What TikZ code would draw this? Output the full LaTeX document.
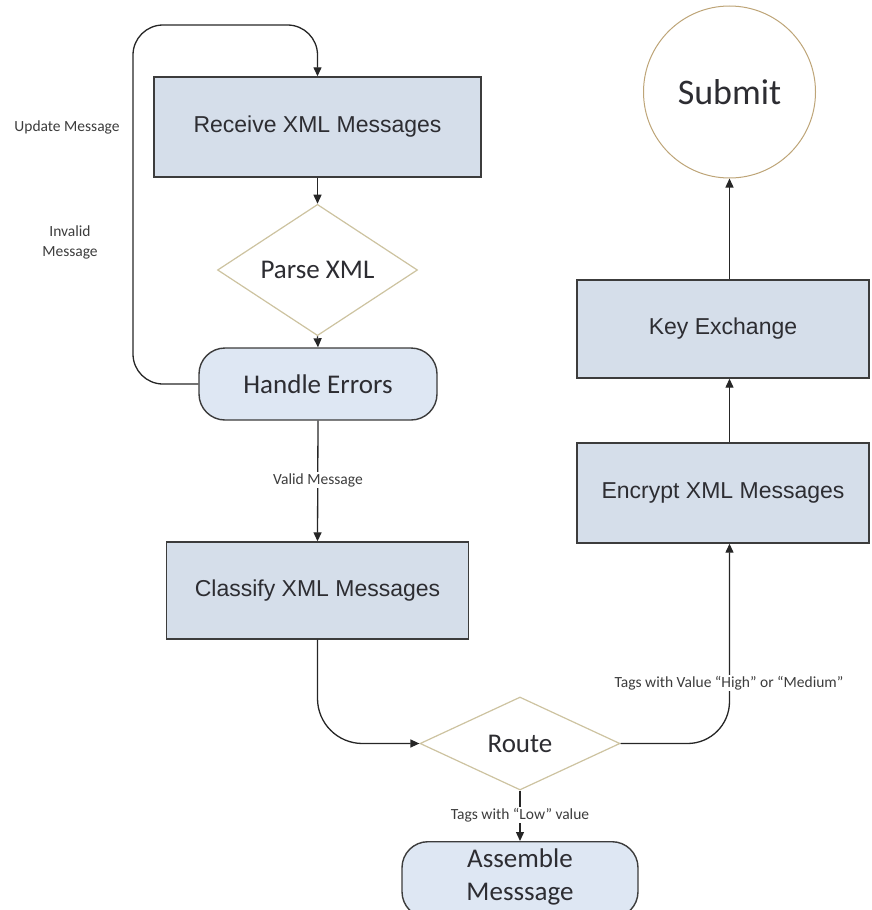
\documentclass[tikz,border=0pt]{standalone}
\usepackage{fontspec}
\setmainfont{Carlito}
\newfontfamily\arialf{Liberation Sans}
\usetikzlibrary{shapes.geometric,arrows.meta}
\definecolor{boxfill}{RGB}{213,222,234}
\definecolor{roundfill}{RGB}{222,231,243}
\definecolor{boxline}{RGB}{60,60,60}
\definecolor{tanline}{RGB}{205,195,160}
\definecolor{circline}{RGB}{190,165,120}
\definecolor{txtgrey}{RGB}{45,45,50}
\definecolor{lblgrey}{RGB}{60,60,60}
\tikzset{
  procbox/.style={draw=boxline, line width=1.4pt, fill=boxfill, rectangle, inner sep=0pt,
    font=\arialf\fontsize{23}{27}\selectfont, text=txtgrey},
  roundbox/.style={draw=boxline, line width=1.4pt, fill=roundfill, rectangle, rounded corners=26pt,
    inner sep=0pt, font=\fontsize{27}{33}\selectfont, text=txtgrey, align=center},
  decision/.style={draw=tanline, line width=1.2pt, fill=white, diamond, inner sep=0pt,
    font=\fontsize{27}{32}\selectfont, text=txtgrey},
  endcircle/.style={draw=circline, line width=1pt, fill=white, circle, inner sep=0pt,
    font=\fontsize{36}{40}\selectfont, text=txtgrey},
  conn/.style={draw=black!85, line width=1.3pt, -{Triangle[length=9pt,width=8pt]}},
  lbl/.style={font=\fontsize{15.5}{20}\selectfont, text=lblgrey, inner sep=1.5pt},
  lblw/.style={lbl, fill=white}
}
\begin{document}
\begin{tikzpicture}[x=1pt,y=-1pt]
\useasboundingbox (0,0) rectangle (871,910);
\clip (0,0) rectangle (871,910);

% nodes
\node[procbox, minimum width=327pt, minimum height=100pt] (recv) at (317.5,127) {Receive XML Messages};
\node[decision, minimum width=200pt, minimum height=94pt] (parse) at (317.5,270) {Parse XML};
\node[roundbox, minimum width=238pt, minimum height=72pt] (hnd) at (318,384) {Handle Errors};
\node[procbox, minimum width=302pt, minimum height=97pt] (cls) at (317.5,590.5) {Classify XML Messages};
\node[decision, minimum width=200pt, minimum height=93pt] (route) at (520,743.5) {Route};
\node[roundbox, minimum width=236pt, minimum height=76pt, anchor=north] (asm) at (520,841) {};
\node[font=\fontsize{27}{33}\selectfont, text=txtgrey, align=center, inner sep=0pt] (asmtxt) at (520,877) {Assemble\\Messsage};
\node[procbox, minimum width=292pt, minimum height=100pt] (enc) at (723,493) {Encrypt XML Messages};
\node[procbox, minimum width=292pt, minimum height=98pt] (key) at (723,329) {Key Exchange};
\node[endcircle, minimum size=172pt] (sub) at (729.5,92) {Submit};

% connector helper
\coordinate (ltop) at (133,25);

% connectors
\draw[conn] (recv.south) -- (parse.north);
\draw[conn] (parse.south) -- (hnd.north);
\draw[conn, rounded corners=30pt] (hnd.west) -| (ltop) -| (recv.north);
\draw[conn] (hnd.south) -- (cls.north);
\draw[conn, rounded corners=45pt] (cls.south) |- (route.west);
\draw[conn] (route.south) -- (asm.north);
\draw[conn, rounded corners=42pt] (route.east) -| (enc.south -| sub.south);
\draw[conn] (enc.north -| sub.south) -- (key.south -| sub.south);
\draw[conn] (key.north -| sub.south) -- (sub.south);

% labels
\node[lbl] (lupd) at (67,127) {Update Message};
\node[lbl, align=center] (linv) at (70,242) {Invalid\\Message};
\node[lblw] (lval) at (318,480) {Valid Message};
\node[lblw] (lhigh) at (729,683) {Tags with Value “High” or “Medium”};
\node[lblw] (llow) at (520,815) {Tags with “Low” value};
\end{tikzpicture}
\end{document}
